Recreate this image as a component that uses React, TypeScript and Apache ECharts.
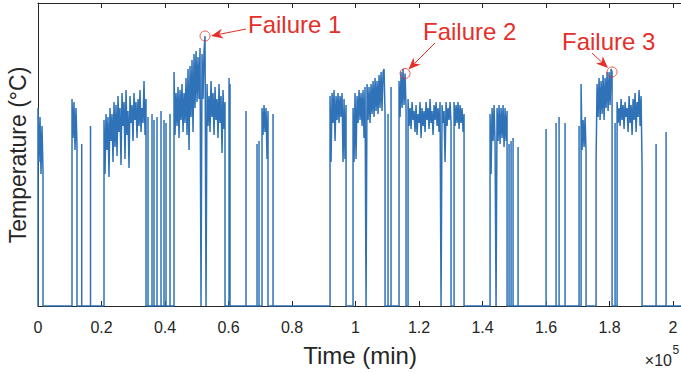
import React, { useEffect, useRef } from "react";
import * as echarts from "echarts";

// ---------------- data (time in minutes, temperature in °C) ----------------
const SAMPLE_STEP_MIN = 315; // interval between logged samples inside a running block
const X_MAX = 205000;
const X_INTERVAL = 20000;
const Y_MAX = 101;
const xTickLabels = ["0", "0.2", "0.4", "0.6", "0.8", "1", "1.2", "1.4", "1.6", "1.8", "2"];

// running blocks: start time + sampled temperatures (0 = sensor off)
const segA_t0 = 0;
const segA = [66, 48, 63, 44, 60, 45];
const segB_t0 = 10710;
const segB = [69, 56, 68, 52, 66, 53];
const segC_t0 = 20790;
const segC = [62, 44, 64, 52, 63, 43, 66, 55, 64, 48, 68, 53, 67, 50, 70, 58, 66, 47, 71, 60, 68, 49, 72, 57, 65, 46, 70, 61, 67, 55, 71, 62, 68, 56, 69, 60, 72, 58, 66, 61, 75, 57, 69];
const segD_t0 = 42840;
const segD = [78, 57, 71, 60, 73, 56, 72, 62, 74, 58, 71, 61, 76, 57, 79, 52, 80, 63, 82, 58, 84, 66, 85, 68, 83, 69, 86, 0, 84, 69, 85, 90, 0, 74, 60, 70, 58, 75, 63, 71, 57, 73, 62, 69, 56, 74, 61, 70, 51, 72, 59, 68];
const segE_t0 = 70560;
const segE = [66, 57, 67, 58, 66, 49, 65];
const segF_t0 = 91980;
const segF = [70, 48, 71, 61, 72, 55, 70, 62, 71, 61, 70, 63, 71, 48, 69, 49, 67];
const segG_t0 = 99225;
const segG = [66, 48, 71, 49, 70, 61, 72, 62, 71, 60, 72, 56, 73, 0, 74, 62, 73, 61, 74, 64, 75, 63, 76, 65, 75, 64, 77, 66, 78, 65, 78, 79, 64];
const segH_t0 = 113715;
const segH = [75, 63, 78, 66, 79, 67, 77.5, 66];
const segI_t0 = 116550;
const segI = [69, 60, 66, 59, 68, 62, 65, 58, 67, 57, 64, 61, 68, 56, 66, 60, 65, 58, 68, 62, 66, 59, 69, 61, 65, 57, 67, 62, 68, 60, 66, 58, 68, 0, 67, 61, 65, 48, 68, 60, 66, 62, 68, 61];
const segJ_t0 = 131040;
const segJ = [68, 60, 67, 61, 68, 59, 67, 61, 66, 58, 64];
const segK_t0 = 142380;
const segK = [64, 44, 66, 55, 67, 54, 0, 66, 55, 67, 54, 66, 56, 67, 53, 66, 55, 65];
const segL0_t0 = 171045;
const segL0 = [74, 52, 62, 53, 63, 51];
const segL_t0 = 175770;
const segL = [48, 74, 63, 76, 62, 75, 64, 77, 62, 76, 66, 78, 65, 78, 67, 79, 78];
const segM_t0 = 182385;
const segM = [68, 61, 66, 60, 69, 62, 67, 59, 68, 63, 66, 58, 70, 61, 67, 57, 69, 62, 71, 58, 68, 63, 72, 60, 70, 46];

// short single-sample readings
const spikeTimes = [13770, 16540, 34650, 35910, 36540, 37485, 38745, 39690, 40320, 41580, 60165, 60480, 65520, 68985, 69615, 74025, 110250, 111195, 148365, 148995, 149625, 151200, 160020, 163170, 164115, 166005, 170415, 181755, 194670, 197820];
const spikeTemps = [54, 60, 63, 64, 62, 63, 65, 62, 61, 64, 76, 74, 65, 54, 55, 64, 64, 73, 54, 55, 56, 53, 59, 61, 63, 61, 60, 61, 54, 58];

// failures
const failureLabels = ["Failure 1", "Failure 2", "Failure 3"];
const failureTimes = [52605, 115605, 180810];
const failureTemps = [90, 77.5, 78];

// ---------------- styles ----------------
const BLUE = "#2f72b8";
const RED = "#e3302a";
const AXIS = "#262626";
const FONT = "'Liberation Sans', Arial, Helvetica, sans-serif";

const bands: Array<[number, number[]]> = [
  [segA_t0, segA], [segB_t0, segB], [segC_t0, segC], [segD_t0, segD], [segE_t0, segE],
  [segF_t0, segF], [segG_t0, segG], [segH_t0, segH], [segI_t0, segI], [segJ_t0, segJ],
  [segK_t0, segK], [segL0_t0, segL0], [segL_t0, segL], [segM_t0, segM],
];

function buildTrace(): number[][] {
  const pieces: { t0: number; pts: number[][] }[] = [];
  for (const [t0, temps] of bands) {
    pieces.push({ t0, pts: temps.map((v, i) => [t0 + i * SAMPLE_STEP_MIN, v]) });
  }
  spikeTimes.forEach((t, i) => pieces.push({ t0: t, pts: [[t, spikeTemps[i]]] }));
  pieces.sort((a, b) => a.t0 - b.t0);
  const data: number[][] = [];
  for (const p of pieces) {
    const first = p.pts[0];
    const last = p.pts[p.pts.length - 1];
    data.push([first[0], 0], ...p.pts, [last[0], 0]);
  }
  data.push([X_MAX, 0]);
  return data;
}

function arrow(x1: number, y1: number, x2: number, y2: number) {
  const dx = x2 - x1, dy = y2 - y1;
  const len = Math.hypot(dx, dy);
  const ux = dx / len, uy = dy / len;
  const nx = -uy, ny = ux;
  const L = 12, W = 10;
  const bx = x2 - ux * L, by = y2 - uy * L;
  const notch = [x2 - ux * L * 0.7, y2 - uy * L * 0.7];
  return [
    { type: "line", silent: true, shape: { x1, y1, x2: notch[0], y2: notch[1] }, style: { stroke: RED, lineWidth: 1 } },
    {
      type: "polygon",
      silent: true,
      shape: { points: [[x2, y2], [bx + (nx * W) / 2, by + (ny * W) / 2], notch, [bx - (nx * W) / 2, by - (ny * W) / 2]] },
      style: { fill: RED },
    },
  ];
}

function txt(text: string, x: number, y: number, size: number, fill: string, align = "left", extra: any = {}) {
  return {
    type: "text",
    silent: true,
    x,
    y,
    ...extra,
    style: { text, fill, fontSize: size, fontFamily: FONT, align, verticalAlign: "middle" },
  };
}

export default function App() {
  const ref = useRef<HTMLDivElement>(null);
  useEffect(() => {
    document.body.style.margin = "0";
    if (!ref.current) return;
    const chart = echarts.init(ref.current, null, { renderer: "svg" });
    const trace = buildTrace();
    const tickFmt = (v: number) => (v % X_INTERVAL === 0 ? xTickLabels[Math.round(v / X_INTERVAL)] ?? "" : "");
    const axisCommon = {
      type: "value",
      min: 0,
      max: X_MAX,
      interval: X_INTERVAL,
      axisLine: { show: true, onZero: false, lineStyle: { color: AXIS, width: 1 } },
      axisTick: { show: true, inside: true, length: 5, lineStyle: { color: AXIS } },
      splitLine: { show: false },
    };
    chart.setOption({
      animation: false,
      grid: {
        left: 38,
        top: 3,
        width: (X_MAX / 100000) * 317.5,
        height: 303,
        containLabel: false,
        outerBoundsMode: "none",
      },
      xAxis: [
        {
          ...axisCommon,
          position: "bottom",
          axisLabel: { show: true, formatter: tickFmt, color: AXIS, fontSize: 16, fontFamily: FONT, margin: 13 },
        },
        { ...axisCommon, position: "top", axisLabel: { show: false } },
      ],
      yAxis: {
        type: "value",
        min: 0,
        max: Y_MAX,
        axisLine: { show: true, onZero: false, lineStyle: { color: AXIS, width: 1 } },
        axisTick: { show: false },
        axisLabel: { show: false },
        splitLine: { show: false },
      },
      series: [
        {
          type: "line",
          data: trace,
          xAxisIndex: 0,
          showSymbol: false,
          symbol: "none",
          silent: true,
          lineStyle: { color: BLUE, width: 1.5 },
          z: 3,
        },
        {
          type: "scatter",
          xAxisIndex: 0,
          data: failureTimes.map((t, i) => [t, failureTemps[i]]),
          symbol: "circle",
          symbolSize: 10,
          silent: true,
          itemStyle: { color: "rgba(0,0,0,0)", borderColor: RED, borderWidth: 1 },
          z: 5,
        },
      ],
      graphic: [
        txt(failureLabels[0], 248, 24.5, 24, RED),
        txt(failureLabels[1], 423, 31.5, 24, RED),
        txt(failureLabels[2], 562, 41, 24, RED),
        ...arrow(246, 29, 211, 36),
        ...arrow(435, 43, 408.5, 69.5),
        ...arrow(592, 53, 608, 68),
        txt("Time (min)", 360, 355.5, 24, AXIS, "center"),
        txt("Temperature (°C)", 17.5, 155, 23, AXIS, "center", { rotation: Math.PI / 2 }),
        txt("×10", 672, 360, 16, AXIS, "right"),
        txt("5", 672.5, 350, 12, AXIS, "left"),
      ],
    });
    return () => chart.dispose();
  }, []);
  return <div ref={ref} style={{ width: 681, height: 373 }} />;
}
